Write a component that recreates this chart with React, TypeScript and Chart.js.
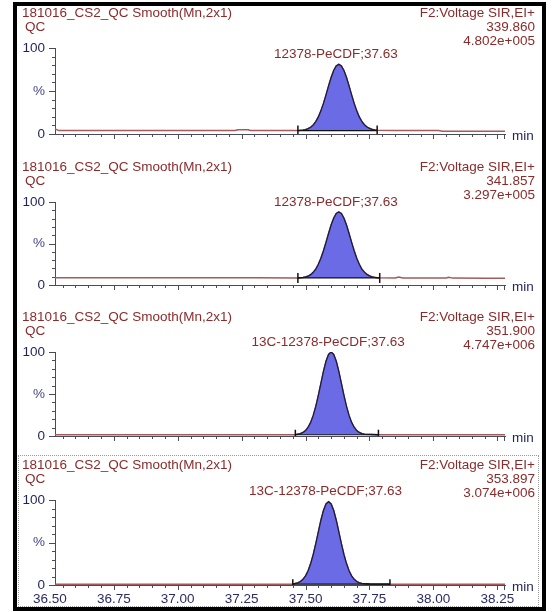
import React, { useEffect, useRef } from 'react';
import { Chart, registerables } from 'chart.js';

Chart.register(...registerables);

// ---------- data ----------
const TITLE = '181016_CS2_QC Smooth(Mn,2x1)';
const SAMPLE = 'QC';
const FUNCTION_LABEL = 'F2:Voltage SIR,EI+';
const MASSES = ['339.860', '341.857', '351.900', '353.897'];
const INTENSITIES = ['4.802e+005', '3.297e+005', '4.747e+006', '3.074e+006'];
const PEAK_LABELS = ['12378-PeCDF;37.63', '12378-PeCDF;37.63', '13C-12378-PeCDF;37.63', '13C-12378-PeCDF;37.63'];
const X_TICK_LABELS = ['36.50', '36.75', '37.00', '37.25', '37.50', '37.75', '38.00', '38.25'];
const Y_TICK_VALUES = [0, 50, 100];
const Y_TICK_LABELS = ['0', '%', '100'];
const X_MIN = 36.52;
const X_MAX = 38.28;

const INTEGRATION_START = [37.47, 37.47, 37.46, 37.45];
const INTEGRATION_END = [37.78, 37.79, 37.785, 37.83];
const INTEGRATION_BASE = [4, 8.5, 1.5, 1];

const P1_TIME = [36.52, 36.535, 36.7, 36.9, 37.1, 37.225, 37.235, 37.275, 37.285, 37.4, 37.47, 37.48,
  37.49, 37.5, 37.51, 37.52, 37.53, 37.54, 37.55, 37.56, 37.57, 37.58, 37.59, 37.6, 37.61, 37.62, 37.63,
  37.64, 37.65, 37.66, 37.67, 37.68, 37.69, 37.7, 37.71, 37.72, 37.73, 37.74, 37.75, 37.76, 37.77, 37.78,
  37.85, 37.95, 38.02, 38.035, 38.15, 38.28];
const P1_SIGNAL = [6, 4, 4, 4, 4, 4, 5, 5, 4, 4, 4, 4.3,
  4.6, 5.2, 6.2, 7.9, 10.5, 14.4, 19.9, 26.9, 35.6, 45.5, 55.9, 65.7, 73.8, 79.2, 81,
  79.2, 73.8, 65.7, 55.9, 45.5, 35.6, 26.9, 19.9, 14.6, 10.8, 8.2, 6.6, 5.5, 4.8, 4.3,
  4, 4, 4, 3.3, 3.3, 3.3];

const P2_TIME = [36.52, 36.7, 36.9, 37.1, 37.3, 37.47, 37.48,
  37.49, 37.5, 37.51, 37.52, 37.53, 37.54, 37.55, 37.56, 37.57, 37.58, 37.59, 37.6, 37.61, 37.62, 37.63,
  37.64, 37.65, 37.66, 37.67, 37.68, 37.69, 37.7, 37.71, 37.72, 37.73, 37.74, 37.75, 37.76, 37.77, 37.78,
  37.79, 37.85, 37.865, 37.88, 37.95, 38.05, 38.06, 38.075, 38.2, 38.28];
const P2_SIGNAL = [8.8, 8.8, 8.7, 8.7, 8.6, 8.5, 8.8,
  9.1, 9.7, 10.8, 12.5, 15.3, 19.2, 24.9, 32.2, 41.2, 51.4, 62.1, 72.2, 80.5, 86.1, 88,
  86.1, 80.5, 72.2, 62.1, 51.4, 41.2, 32.2, 24.9, 19.2, 15.5, 12.8, 11.0, 9.9, 9.2, 8.8,
  8.6, 8.5, 9.6, 8.5, 8.4, 8.4, 9.3, 8.3, 8.2, 8.1];

const P3_TIME = [36.52, 36.8, 37.1, 37.4, 37.46,
  37.47, 37.48, 37.49, 37.5, 37.51, 37.52, 37.53, 37.54, 37.55, 37.56, 37.57, 37.58, 37.59, 37.6,
  37.61, 37.62, 37.63, 37.64, 37.65, 37.66, 37.67, 37.68, 37.69, 37.7, 37.71, 37.72, 37.73,
  37.785, 38.0, 38.28];
const P3_SIGNAL = [1.5, 1.5, 1.5, 1.5, 1.5,
  2.2, 2.9, 4.2, 6.5, 10.4, 16.2, 24.5, 35.3, 48.3, 62.7, 76.9, 89.0, 97.1, 100,
  97.1, 89.0, 76.9, 62.7, 48.3, 35.3, 24.5, 16.2, 10.4, 6.5, 4.2, 2.9, 2.2,
  1.5, 1.5, 1.5];

const P4_TIME = [36.52, 36.8, 37.1, 37.4, 37.45,
  37.46, 37.47, 37.48, 37.49, 37.5, 37.51, 37.52, 37.53, 37.54, 37.55, 37.56, 37.57, 37.58, 37.59,
  37.6, 37.61, 37.62, 37.63, 37.64, 37.65, 37.66, 37.67, 37.68, 37.69, 37.7, 37.71, 37.72,
  37.75, 37.83, 38.0, 38.28];
const P4_SIGNAL = [1, 1, 1, 1, 1,
  1.8, 2.6, 4.1, 6.7, 10.8, 16.8, 25.2, 35.9, 48.7, 62.6, 76.2, 87.6, 95.3, 98,
  95.3, 87.6, 76.2, 62.6, 48.7, 35.9, 25.2, 16.8, 10.8, 6.7, 4.1, 2.6, 1.8,
  1.2, 1, 1, 1];

const TIMES = [P1_TIME, P2_TIME, P3_TIME, P4_TIME];
const SIGNALS = [P1_SIGNAL, P2_SIGNAL, P3_SIGNAL, P4_SIGNAL];

// ---------- layout / style ----------
const FONT = "'Liberation Sans', Arial, sans-serif";
const TEXT_SIZE = 13.5;
const PANEL_TOP = [48, 202, 352, 500]; // page y of the 100% line
const PANEL_ZERO = [134, 285, 436, 585]; // page y of the 0% line
const CANVAS_LEFT = 17;
const CANVAS_W = 523;
const CANVAS_H = 150;
const PAD_TOP = 44;
const AREA_LEFT = 38;
const PAD_RIGHT = 35;

const RED_TEXT = '#8a2b2b';
const NAVY = '#1f2358';
const AXIS = '#4a4a5e';
const TRACE = '#a35b5b';
const PEAK_FILL = '#6b6be6';
const PEAK_LINE = '#1c1c3c';

const decorPlugin = {
  id: 'decor',
  afterDraw(chart: any, _args: any, opts: any) {
    const { ctx, chartArea: a, scales } = chart;
    const xs = scales.x;
    const ys = scales.y;
    ctx.save();
    ctx.strokeStyle = AXIS;
    ctx.lineWidth = 1;
    ctx.beginPath();
    for (let v = 0; v <= 100; v += 10) {
      const py = Math.round(ys.getPixelForValue(v)) + 0.5;
      const len = v % 50 === 0 ? 6 : 3;
      ctx.moveTo(a.left - len, py);
      ctx.lineTo(a.left, py);
    }
    for (let k = 731; k <= 765; k++) {
      const px = Math.round(xs.getPixelForValue(k * 0.05)) + 0.5;
      const len = k % 5 === 0 ? 5 : 3;
      ctx.moveTo(px, a.bottom);
      ctx.lineTo(px, a.bottom + len);
    }
    ctx.moveTo(Math.round(a.right) - 0.5, a.bottom);
    ctx.lineTo(Math.round(a.right) - 0.5, a.bottom + 5);
    ctx.stroke();

    ctx.font = `${TEXT_SIZE}px ${FONT}`;
    ctx.textBaseline = 'middle';
    ctx.fillStyle = RED_TEXT;
    ctx.textAlign = 'left';
    ctx.fillText(TITLE, 5, a.top - 35);
    ctx.fillText(SAMPLE, 8, a.top - 21);
    ctx.textAlign = 'right';
    ctx.fillText(FUNCTION_LABEL, 518, a.top - 35);
    ctx.fillText(opts.mass, 518, a.top - 21);
    ctx.fillText(opts.intensity, 518, a.top - 7);

    // peak label centred on apex
    const t = TIMES[opts.idx];
    const s = SIGNALS[opts.idx];
    let best = 0;
    for (let i = 1; i < s.length; i++) if (s[i] > s[best]) best = i;
    const apx = xs.getPixelForValue(t[best]);
    const apy = ys.getPixelForValue(s[best]);
    ctx.textAlign = 'center';
    ctx.fillText(opts.peakLabel, apx - 3, apy - 10);

    ctx.fillStyle = NAVY;
    ctx.textAlign = 'left';
    ctx.fillText('min', a.right + 7, a.bottom + 2);
    ctx.restore();
  },
};

function Panel({ idx }: { idx: number }) {
  const ref = useRef<HTMLCanvasElement>(null);
  useEffect(() => {
    const time = TIMES[idx];
    const signal = SIGNALS[idx];
    const trace = time.map((x, i) => ({ x, y: signal[i] }));
    const start = INTEGRATION_START[idx];
    const end = INTEGRATION_END[idx];
    const base = INTEGRATION_BASE[idx];
    const peak = trace.filter((p) => p.x >= start - 1e-9 && p.x <= end + 1e-9);
    const areaH = PANEL_ZERO[idx] - PANEL_TOP[idx];
    const showLabels = idx === 3;

    const chart = new Chart(ref.current as HTMLCanvasElement, {
      type: 'line',
      data: {
        datasets: [
          {
            data: peak,
            borderColor: PEAK_LINE,
            borderWidth: 1.3,
            backgroundColor: PEAK_FILL,
            fill: { value: base } as any,
            pointRadius: 0,
            order: 1,
          },
          {
            data: [{ x: start, y: base }, { x: end, y: base }],
            borderColor: '#111111',
            borderWidth: 1.2,
            pointStyle: 'line',
            pointRotation: 90,
            pointRadius: 5,
            pointBorderColor: '#111111',
            pointBorderWidth: 1.5,
            fill: false,
            order: 0,
          },
          {
            data: trace,
            borderColor: TRACE,
            borderWidth: 1.5,
            pointRadius: 0,
            fill: false,
            order: 2,
          },
        ],
      },
      options: {
        animation: false,
        responsive: false,
        maintainAspectRatio: false,
        events: [],
        layout: { padding: { top: PAD_TOP, right: PAD_RIGHT, left: 0, bottom: 0 } },
        plugins: {
          legend: { display: false },
          tooltip: { enabled: false },
          title: { display: false },
          decor: {
            idx,
            mass: MASSES[idx],
            intensity: INTENSITIES[idx],
            peakLabel: PEAK_LABELS[idx],
          },
        } as any,
        scales: {
          x: {
            type: 'linear',
            min: X_MIN,
            max: X_MAX,
            afterBuildTicks: (sc: any) => {
              sc.ticks = X_TICK_LABELS.map((l) => ({ value: parseFloat(l) }));
            },
            afterFit: (sc: any) => {
              sc.height = CANVAS_H - PAD_TOP - areaH;
            },
            grid: { display: true, drawOnChartArea: false, drawTicks: true, tickLength: 5, color: 'rgba(0,0,0,0)' },
            border: { display: true, color: AXIS, width: 1 },
            ticks: {
              display: showLabels,
              autoSkip: false,
              maxRotation: 0,
              padding: 1,
              color: '#2a2c66',
              font: { size: TEXT_SIZE, family: FONT },
              callback: (v: any) => {
                const i = X_TICK_LABELS.findIndex((l) => Math.abs(parseFloat(l) - Number(v)) < 1e-6);
                return i >= 0 ? X_TICK_LABELS[i] : '';
              },
            },
          },
          y: {
            type: 'linear',
            min: 0,
            max: 100,
            afterBuildTicks: (sc: any) => {
              sc.ticks = Y_TICK_VALUES.map((v) => ({ value: v }));
            },
            afterFit: (sc: any) => {
              sc.width = AREA_LEFT;
            },
            grid: { display: true, drawOnChartArea: false, drawTicks: true, tickLength: 6, color: 'rgba(0,0,0,0)' },
            border: { display: true, color: AXIS, width: 1 },
            ticks: {
              padding: 4,
              font: { size: TEXT_SIZE, family: FONT },
              color: (c: any) => (c.tick && c.tick.value === 50 ? '#46468c' : NAVY),
              callback: (v: any) => {
                const i = Y_TICK_VALUES.indexOf(Number(v));
                return i >= 0 ? Y_TICK_LABELS[i] : '';
              },
            },
          },
        },
      },
      plugins: [decorPlugin],
    } as any);
    return () => chart.destroy();
  }, [idx]);

  return (
    <canvas
      ref={ref}
      width={CANVAS_W}
      height={CANVAS_H}
      style={{
        position: 'absolute',
        left: CANVAS_LEFT,
        top: PANEL_TOP[idx] - PAD_TOP,
        width: CANVAS_W,
        height: CANVAS_H,
      }}
    />
  );
}

export default function App() {
  return (
    <div style={{ position: 'absolute', left: 0, top: 0, width: 555, height: 612, background: '#fff' }}>
      <div
        style={{
          position: 'absolute',
          left: 13,
          top: 2,
          width: 533,
          height: 609,
          border: '4px solid #000',
          boxSizing: 'border-box',
        }}
      />
      <div
        style={{
          position: 'absolute',
          left: 18,
          top: 455,
          width: 521,
          height: 152,
          border: '1px dotted #9a9a9a',
          boxSizing: 'border-box',
        }}
      />
      {[0, 1, 2, 3].map((i) => (
        <Panel key={i} idx={i} />
      ))}
    </div>
  );
}
